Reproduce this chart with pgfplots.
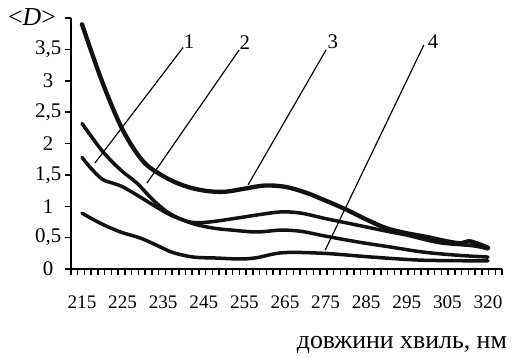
\documentclass[border=0pt]{standalone}
\usepackage{fontspec}
\setmainfont{Liberation Serif}
\usepackage{pgfplots}
\pgfplotsset{compat=1.18}
\usepackage{pgfplotstable}

% Mean optical density <D> against wavelength, nm
\pgfplotstableread{
nm D
215 1.78
217 1.62
220 1.43
222.5 1.37
225 1.31
228.5 1.18
232.5 1.02
236.5 0.87
239.5 0.79
243 0.71
247.5 0.65
252 0.62
258 0.59
264 0.62
269 0.60
274.5 0.53
283 0.43
291 0.35
299 0.27
308.5 0.22
320 0.19
}\curveone

\pgfplotstableread{
nm D
215 2.32
220 1.88
224.5 1.58
228.5 1.37
232.5 1.10
236 0.91
239.5 0.79
242.5 0.74
246.5 0.75
253 0.81
258 0.86
264 0.91
269 0.89
274.5 0.81
279 0.75
285 0.67
291 0.59
295 0.54
303 0.42
314.5 0.37
320 0.32
}\curvetwo

\pgfplotstableread{
nm D
215 3.90
220 2.98
225 2.22
230 1.72
235 1.48
240 1.33
245 1.25
250 1.23
255 1.28
260 1.33
265 1.31
270 1.22
275 1.09
280 0.95
285 0.79
290 0.65
295 0.57
300 0.51
305 0.44
310 0.41
313.5 0.44
320 0.34
}\curvethree

\pgfplotstableread{
nm D
215 0.89
219.5 0.73
224.5 0.59
229.5 0.49
234 0.36
237.5 0.26
242.5 0.19
248 0.175
254 0.16
258 0.18
264.5 0.26
274.5 0.25
286.5 0.19
299 0.14
320 0.13
}\curvefour

% wavelengths up to 305 nm are spaced 10 nm per step, the last step is 15 nm
\newcommand{\wlpos}{\thisrow{nm}<305.5 ? (\thisrow{nm}-215)/10 : 9+(\thisrow{nm}-305)/15}

\begin{document}
\begin{tikzpicture}
\useasboundingbox (-42.6pt,-52.8pt) rectangle (267pt,161.4pt);
\begin{axis}[
  scale only axis,
  width=258.6pt, height=150.6pt,
  xmin=-0.271, xmax=10.345,
  ymin=0, ymax=4,
  axis x line=bottom, axis y line=left,
  axis line style={-, line width=1.1pt},
  clip=false,
  xtick align=outside, ytick align=outside,
  xtick style={draw=none},
  ytick style={draw=black, line width=0.9pt},
  major tick length=3.2pt,
  xtick={0,1,2,3,4,5,6,7,8,9,10},
  xticklabels={215,225,235,245,255,265,275,285,295,305,320},
  ytick={0,0.5,1,1.5,2,2.5,3,3.5,4},
  yticklabels={0,{0,5},1,{1,5},2,{2,5},3,{3,5},{}},
  xticklabel style={font=\fontsize{11.5}{13}\selectfont, anchor=center, yshift=-17pt},
  yticklabel style={font=\fontsize{12.5}{14}\selectfont, anchor=center, xshift=-10.5pt},
  every axis plot/.append style={smooth, tension=0.55, line cap=round, line join=round, color=black!93},
]
\addplot[line width=2.1pt] table[x expr={\wlpos}, y=D] {\curveone};
\addplot[line width=2.1pt] table[x expr={\wlpos}, y=D] {\curvetwo};
\addplot[line width=2.6pt] table[x expr={\wlpos}, y=D] {\curvethree};
\addplot[line width=2.1pt] table[x expr={\wlpos}, y=D] {\curvefour};

% fine scale marks below the wavelength axis and beside the density axis
\pgfplotsinvokeforeach{-0.271,-0.1051,...,10.36}{
  \draw[line width=0.9pt] (axis cs:#1,0) -- ++(0pt,-3.4pt);
}
\pgfplotsinvokeforeach{0,0.5,...,4}{
  \draw[line width=0.9pt] (axis cs:-0.271,#1) -- ++(-3.4pt,0pt);
}

% leader lines with curve numbers
\draw[line width=0.7pt] (axis cs:0.32,1.69) -- (axis cs:2.49,3.53);
\draw[line width=0.7pt] (axis cs:1.60,1.37) -- (axis cs:3.87,3.49);
\draw[line width=0.7pt] (axis cs:4.09,1.34) -- (axis cs:6.01,3.49);
\draw[line width=0.7pt] (axis cs:5.99,0.30) -- (axis cs:8.42,3.57);
\node[font=\fontsize{12.5}{14}\selectfont] at (axis cs:2.64,3.62) {1};
\node[font=\fontsize{12.5}{14}\selectfont] at (axis cs:4.01,3.60) {2};
\node[font=\fontsize{12.5}{14}\selectfont] at (axis cs:6.18,3.62) {3};
\node[font=\fontsize{12.5}{14}\selectfont] at (axis cs:8.65,3.62) {4};

\node[font=\fontsize{15.5}{17}\selectfont] at (axis cs:-1.23,4.02) {<\textit{D}>};
\node[font=\fontsize{15.5}{17}\selectfont] at (axis cs:7.88,0) [yshift=-45.6pt] {довжини хвиль, нм};
\end{axis}
\end{tikzpicture}
\end{document}
